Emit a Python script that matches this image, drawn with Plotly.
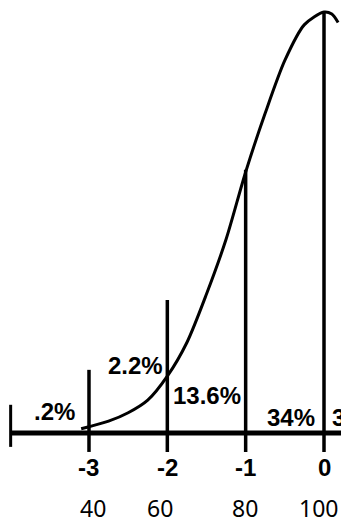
import plotly.graph_objects as go

# ---- data ----
# curve: standard-deviation position vs. relative height (peak = 1)
curve_sd = [-3.1, -3.0, -2.75, -2.5, -2.25, -2.0, -1.75, -1.5, -1.25, -1.0,
            -0.75, -0.5, -0.25, 0.0, 0.1, 0.18]
curve_h = [0.010, 0.015, 0.028, 0.048, 0.078, 0.135, 0.215, 0.33, 0.46, 0.62,
           0.76, 0.885, 0.97, 1.0, 0.995, 0.975]

sd_ticks = [-3, -2, -1, 0]
sd_labels = ["-3", "-2", "-1", "0"]
score_labels = ["40", "60", "80", "100"]
line_tops = [0.15, 0.316, 0.625, 1.0]

pct_labels = [".2%", "2.2%", "13.6%", "34%", "3"]
axis_start = -4

# ---- layout helpers ----
X_RANGE = [-4.136, 0.217]
Y_RANGE = [-0.2138, 1.0285]
line_bottom = -0.045
sd_label_y = -0.083
score_label_y = -0.178
score_shift = [4, -7, -1, -6]

fig = go.Figure()

# baseline
fig.add_trace(go.Scatter(x=[axis_start, 0.5], y=[0, 0], mode="lines",
                         line=dict(color="black", width=5), hoverinfo="skip"))
# left end mark
fig.add_trace(go.Scatter(x=[axis_start, axis_start], y=[-0.033, 0.067], mode="lines",
                         line=dict(color="black", width=3), hoverinfo="skip"))
# vertical sd lines
for t, top in zip(sd_ticks, line_tops):
    fig.add_trace(go.Scatter(x=[t, t], y=[line_bottom, top], mode="lines",
                             line=dict(color="black", width=3.5), hoverinfo="skip"))
# curve
fig.add_trace(go.Scatter(x=curve_sd, y=curve_h, mode="lines",
                         line=dict(color="black", width=3, shape="spline", smoothing=0.8),
                         hoverinfo="skip"))

ann = []
txt_font = dict(family="Liberation Sans, Arial", size=24, color="black", weight="bold")
# percentage labels
pct_pos = [
    dict(x=-3.434, y=0.05, xanchor="center"),
    dict(x=-2.03, y=0.1615, xanchor="right"),
    dict(x=-1.95, y=0.09, xanchor="left"),
    dict(x=-0.09, y=0.036, xanchor="right"),
    dict(x=0.077, y=0.036, xanchor="left"),
]
for lab, p in zip(pct_labels, pct_pos):
    ann.append(dict(text=lab, x=p["x"], y=p["y"], xanchor=p["xanchor"], yanchor="middle",
                    showarrow=False, font=txt_font))
# sd tick labels
for t, lab in zip(sd_ticks, sd_labels):
    ann.append(dict(text=lab, x=t, y=sd_label_y, xanchor="center", yanchor="middle",
                    showarrow=False, font=txt_font))
# score labels
for t, lab, s in zip(sd_ticks, score_labels, score_shift):
    ann.append(dict(text=lab, x=t, y=score_label_y, xanchor="center", yanchor="middle",
                    xshift=s, showarrow=False,
                    font=dict(family="Noto Sans", size=23, color="black")))

fig.update_layout(
    width=341, height=523,
    margin=dict(l=0, r=0, t=0, b=0),
    paper_bgcolor="white", plot_bgcolor="white",
    showlegend=False,
    xaxis=dict(range=X_RANGE, visible=False, fixedrange=True),
    yaxis=dict(range=Y_RANGE, visible=False, fixedrange=True),
    annotations=ann,
)

fig.write_html("out.html", config=dict(displayModeBar=False),
               post_script="document.body.style.margin='0px';document.body.style.overflow='hidden';")
